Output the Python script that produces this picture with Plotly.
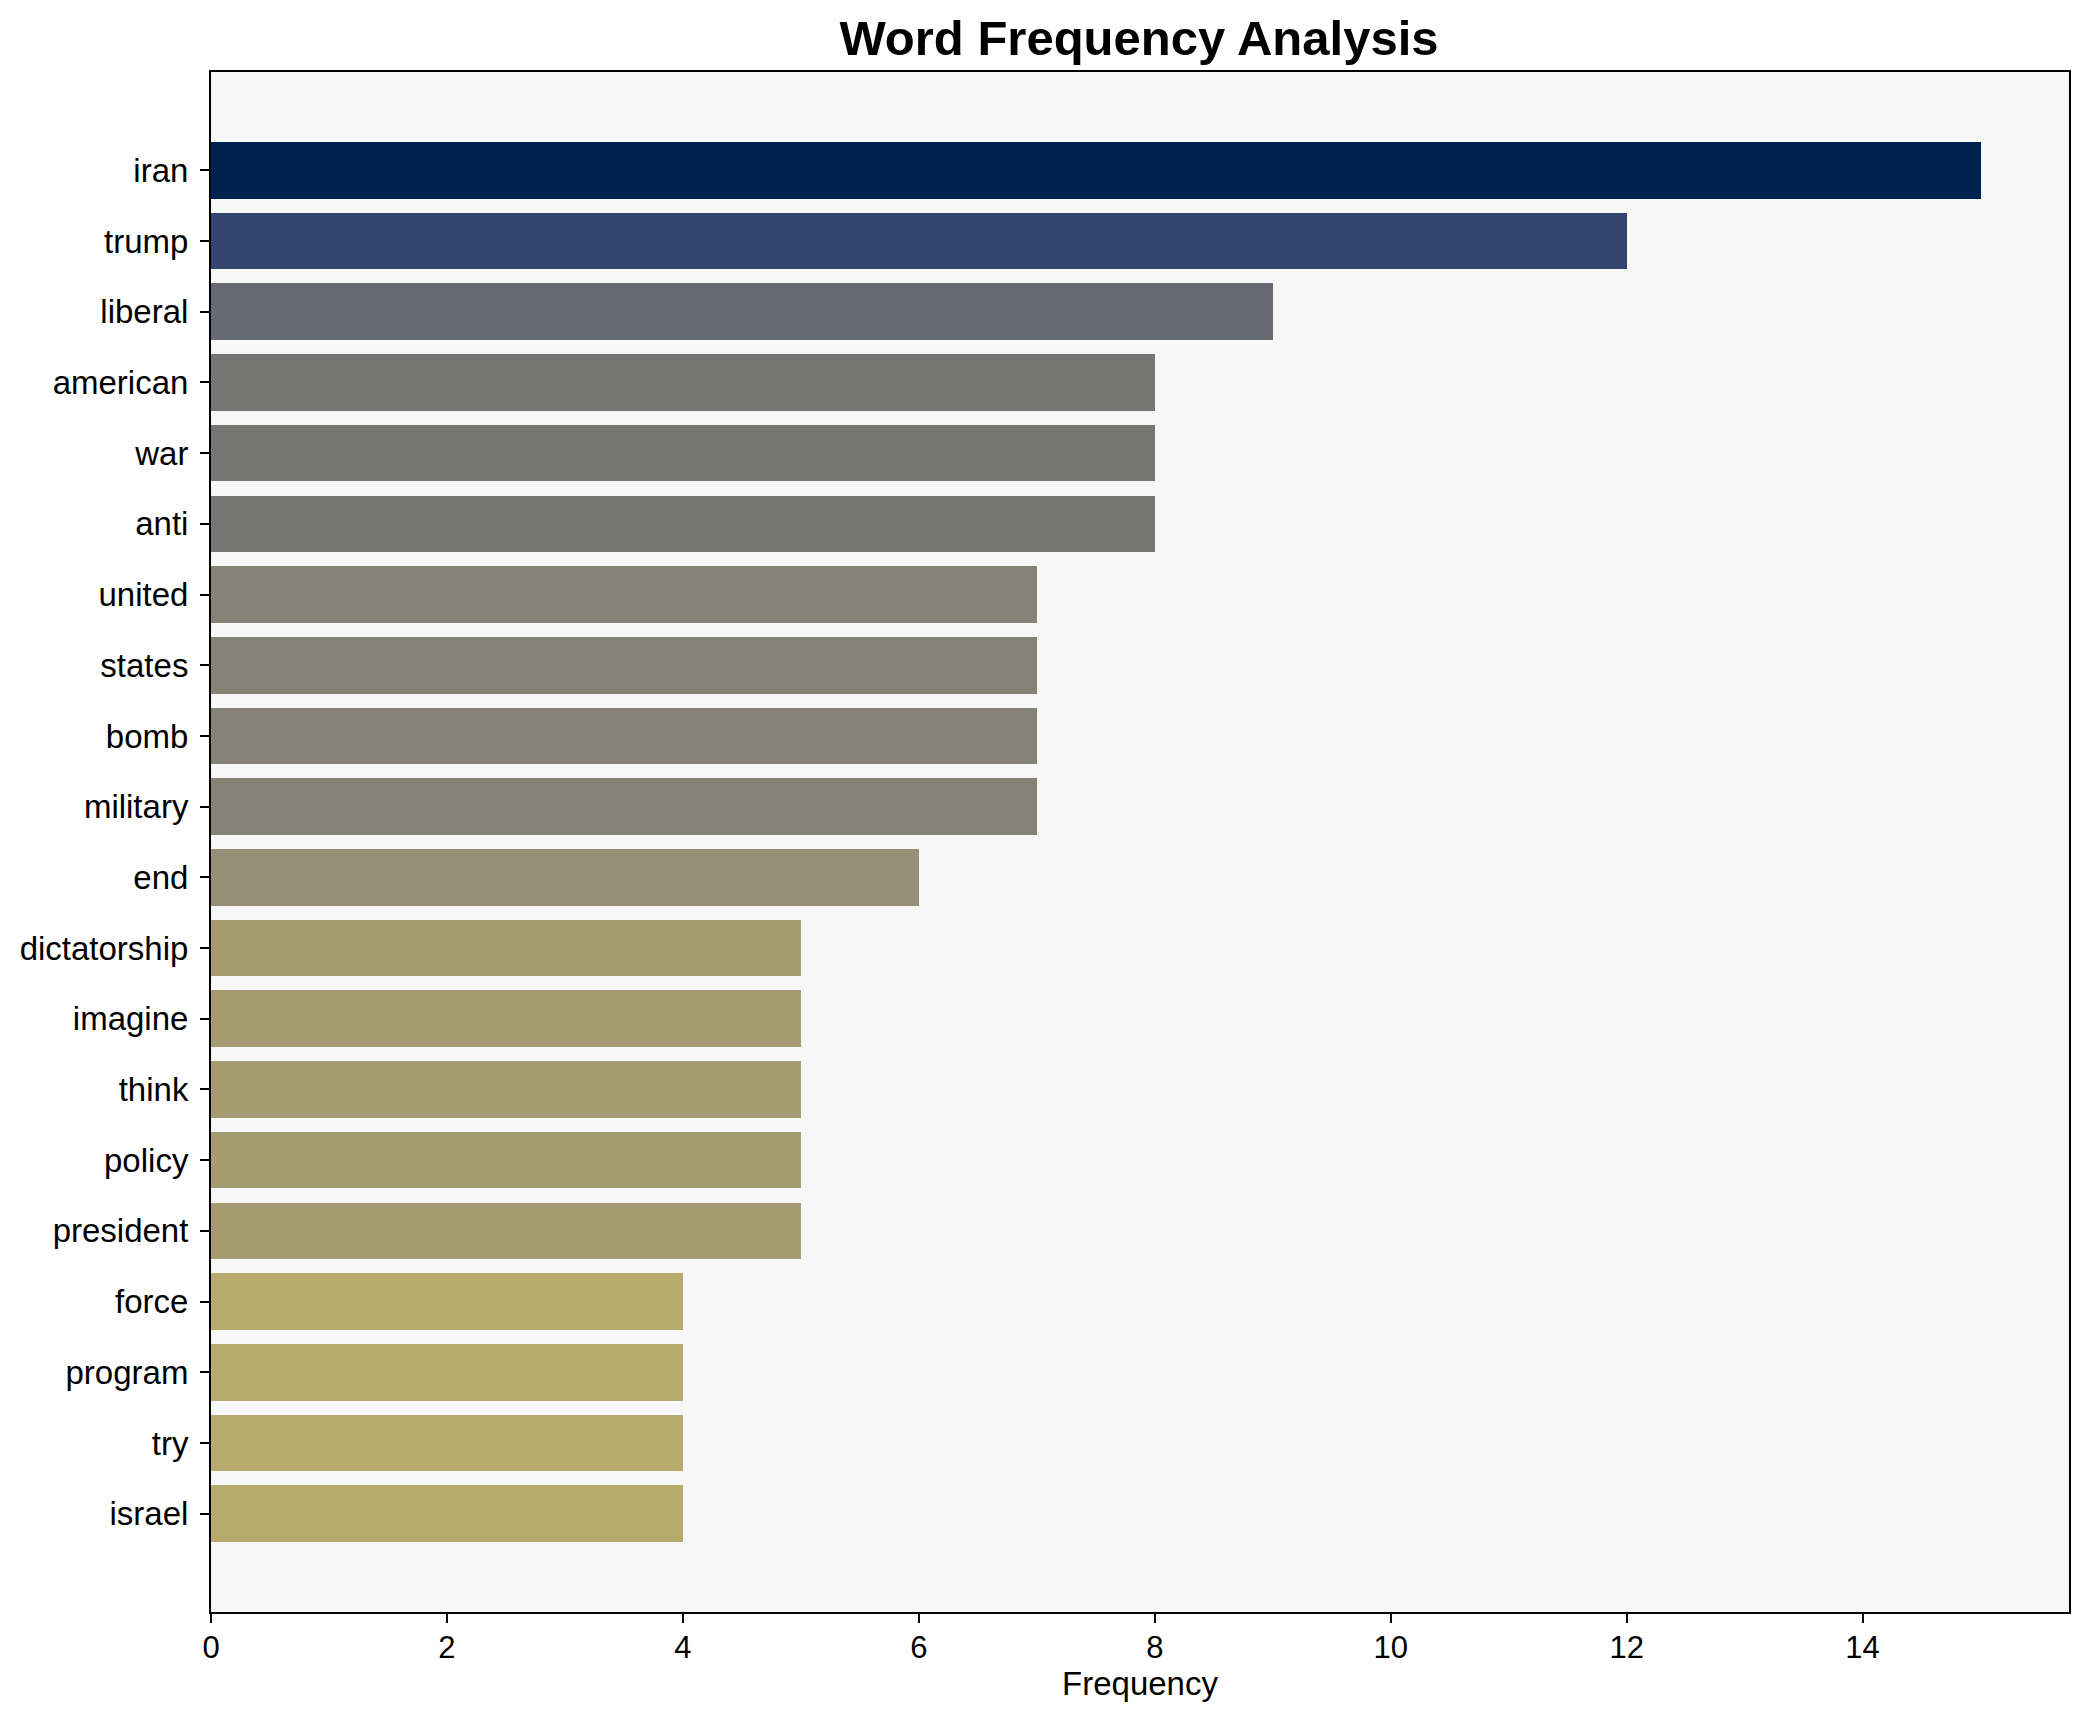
import plotly.graph_objects as go
from plotly.colors import sample_colorscale

words = ["iran", "trump", "liberal", "american", "war", "anti", "united", "states",
         "bomb", "military", "end", "dictatorship", "imagine", "think", "policy",
         "president", "force", "program", "try", "israel"]
counts = [15, 12, 9, 8, 8, 8, 7, 7, 7, 7, 6, 5, 5, 5, 5, 5, 4, 4, 4, 4]

vmax = max(counts)
colors = sample_colorscale("cividis", [(vmax - c) / vmax for c in counts])

n = len(words)
bar_w = 0.8
span = (n - 1) + bar_w
pad = span * 0.05

fig = go.Figure(go.Bar(
    x=counts, y=words, orientation="h",
    marker=dict(color=colors, line=dict(width=0)),
    width=bar_w,
))

W, H = 2081, 1714  # page body has an 8px margin
font_family = "Liberation Sans, Arial, sans-serif"
fig.update_layout(
    width=W, height=H,
    margin=dict(l=201, r=20, t=64, b=110),
    paper_bgcolor="white",
    plot_bgcolor="#f7f7f7",
    font=dict(family=font_family, size=33, color="black"),
    title=dict(text="<b>Word Frequency Analysis</b>", x=(201 + (W - 20)) / 2 / W, xanchor="center",
               y=1 - 30 / H, yanchor="middle", yref="container",
               font=dict(size=49, family=font_family, color="black")),
    showlegend=False,
    bargap=0,
)
fig.update_xaxes(
    range=[0, vmax * 1.05], dtick=2, tick0=0,
    showgrid=False, zeroline=False,
    showline=True, linecolor="black", linewidth=2, mirror=True,
    ticks="outside", ticklen=9, tickwidth=2, tickcolor="black",
    tickfont=dict(size=31),
    ticklabelstandoff=-2,
    title=dict(text="Frequency", font=dict(size=33), standoff=4),
)
fig.update_yaxes(
    categoryorder="array", categoryarray=words,
    range=[n - 1 + bar_w / 2 + pad, -bar_w / 2 - pad],
    showgrid=False, zeroline=False,
    showline=True, linecolor="black", linewidth=2, mirror=True,
    ticks="outside", ticklen=9, tickwidth=2, tickcolor="black",
    tickfont=dict(size=33),
    ticklabelstandoff=5,
)

fig.write_html("out.html")
